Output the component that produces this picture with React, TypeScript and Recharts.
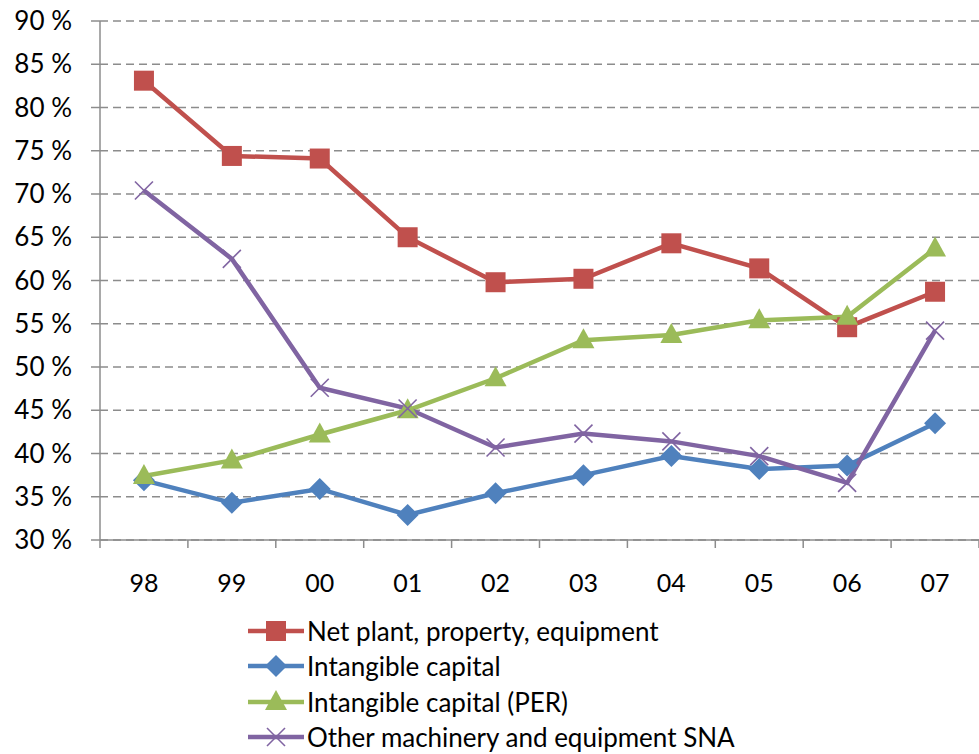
import { LineChart, Line, XAxis, YAxis, CartesianGrid } from 'recharts';

const years = ['98', '99', '00', '01', '02', '03', '04', '05', '06', '07'];
const netPlant = [83.1, 74.4, 74.1, 65.0, 59.8, 60.2, 64.3, 61.4, 54.6, 58.7];
const intangible = [36.9, 34.3, 35.9, 32.9, 35.4, 37.5, 39.7, 38.2, 38.6, 43.5];
const intangiblePer = [37.4, 39.2, 42.2, 45.0, 48.7, 53.1, 53.7, 55.4, 55.8, 63.7];
const otherMachinery = [70.4, 62.5, 47.6, 45.2, 40.7, 42.3, 41.4, 39.7, 36.6, 54.2];
const yTicks = [30, 35, 40, 45, 50, 55, 60, 65, 70, 75, 80, 85, 90];

const data = years.map((year, i) => ({
  year,
  netPlant: netPlant[i],
  intangible: intangible[i],
  intangiblePer: intangiblePer[i],
  otherMachinery: otherMachinery[i],
}));

const W = 979;
const H = 754;
const PLOT_LEFT = 100;
const PLOT_BOTTOM = 540;
const BAND = (W - PLOT_LEFT) / years.length;
const FONT = 'Lato, "Open Sans", sans-serif';

const RED = '#C0504D';
const BLUE = '#4F81BD';
const GREEN = '#9BBB59';
const PURPLE = '#8064A2';
const AXIS = '#8C8C8C';

type Shape = 'square' | 'diamond' | 'triangle' | 'cross';

function marker(shape: Shape, color: string, cx: number, cy: number, key?: string) {
  if (shape === 'square') {
    return <rect key={key} x={cx - 10} y={cy - 10} width={20} height={20} fill={color} />;
  }
  if (shape === 'diamond') {
    return (
      <polygon
        key={key}
        points={`${cx},${cy - 11} ${cx + 11},${cy} ${cx},${cy + 11} ${cx - 11},${cy}`}
        fill={color}
      />
    );
  }
  if (shape === 'triangle') {
    return (
      <polygon
        key={key}
        points={`${cx},${cy - 12} ${cx + 11},${cy + 8} ${cx - 11},${cy + 8}`}
        fill={color}
      />
    );
  }
  return (
    <g key={key} stroke={color} strokeWidth={1.6}>
      <line x1={cx - 9} y1={cy - 9} x2={cx + 9} y2={cy + 9} />
      <line x1={cx - 9} y1={cy + 9} x2={cx + 9} y2={cy - 9} />
    </g>
  );
}

const dotFor = (shape: Shape, color: string) => (props: any) =>
  marker(shape, color, props.cx, props.cy, `${shape}-${props.index}`);

// category labels with Excel-style tick marks between categories
const YearTick = (props: any) => {
  const { x, payload, index } = props;
  return (
    <g>
      <line x1={x - BAND / 2} y1={PLOT_BOTTOM} x2={x - BAND / 2} y2={PLOT_BOTTOM + 8} stroke={AXIS} strokeWidth={1.5} />
      {index === years.length - 1 && (
        <line x1={x + BAND / 2} y1={PLOT_BOTTOM} x2={x + BAND / 2} y2={PLOT_BOTTOM + 8} stroke={AXIS} strokeWidth={1.5} />
      )}
      <text x={x} y={PLOT_BOTTOM + 46} textAnchor="middle" dominantBaseline="middle" fill="#000" fontSize={25} fontFamily={FONT}>
        {payload.value}
      </text>
    </g>
  );
};

const series = [
  { key: 'netPlant', name: 'Net plant, property, equipment', color: RED, shape: 'square' as Shape },
  { key: 'intangible', name: 'Intangible capital', color: BLUE, shape: 'diamond' as Shape },
  { key: 'intangiblePer', name: 'Intangible capital (PER)', color: GREEN, shape: 'triangle' as Shape },
  { key: 'otherMachinery', name: 'Other machinery and equipment SNA', color: PURPLE, shape: 'cross' as Shape },
];

export default function App() {
  return (
    <div style={{ position: 'absolute', left: 0, top: 0, width: W, height: H, background: '#fff', fontFamily: FONT }}>
      <LineChart width={W} height={H} data={data} margin={{ top: 21, right: 0, left: 0, bottom: 0 }}>
        <CartesianGrid vertical={false} stroke={AXIS} strokeWidth={1.5} strokeDasharray="8 5" />
        <XAxis
          dataKey="year"
          height={H - PLOT_BOTTOM}
          padding={{ left: BAND / 2, right: BAND / 2 }}
          axisLine={{ stroke: AXIS, strokeWidth: 1.5 }}
          tickLine={false}
          tick={<YearTick />}
          interval={0}
        />
        <YAxis
          width={PLOT_LEFT}
          domain={[30, 90]}
          ticks={yTicks}
          interval={0}
          axisLine={{ stroke: AXIS, strokeWidth: 1.5 }}
          tickLine={{ stroke: AXIS, strokeWidth: 1.5 }}
          tickSize={9}
          tickMargin={19}
          tickFormatter={(v: number) => `${v} %`}
          tick={{ fill: '#000', fontSize: 26, fontFamily: FONT }}
        />
        {series.map((s) => (
          <Line
            key={s.key}
            type="linear"
            dataKey={s.key}
            name={s.name}
            stroke={s.color}
            strokeWidth={4.5}
            dot={dotFor(s.shape, s.color)}
            activeDot={false}
            isAnimationActive={false}
          />
        ))}
      </LineChart>
      <div style={{ position: 'absolute', left: 248, top: 613 }}>
        {series.map((s) => (
          <div key={s.key} style={{ display: 'flex', alignItems: 'center', height: 35.5 }}>
            <svg width={56} height={36} style={{ marginRight: 3 }}>
              <line x1={0} y1={18} x2={56} y2={18} stroke={s.color} strokeWidth={4.5} />
              {marker(s.shape, s.color, 28, 18)}
            </svg>
            <span style={{ fontSize: 26, color: '#000', whiteSpace: 'nowrap' }}>{s.name}</span>
          </div>
        ))}
      </div>
    </div>
  );
}
